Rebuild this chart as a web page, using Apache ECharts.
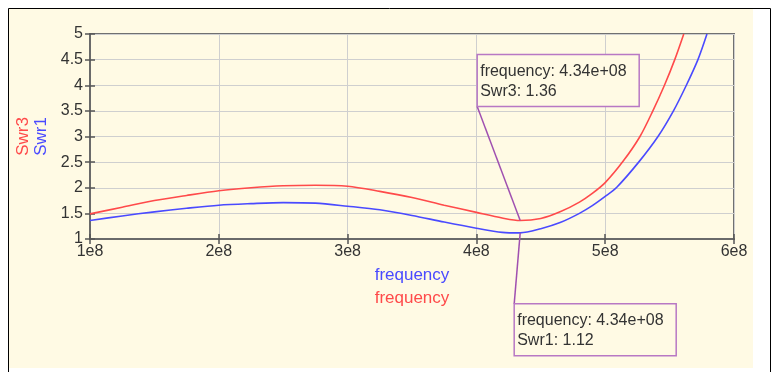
<!DOCTYPE html>
<html>
<head>
<meta charset="utf-8">
<script src="https://cdn.jsdelivr.net/npm/echarts@6/dist/echarts.min.js"></script>
<style>
  html, body { margin: 0; padding: 0; background: #fff; }
  #chart { width: 776px; height: 372px; }
</style>
</head>
<body>
<div id="chart"></div>
<script>
// Frequency sweep of two SWR traces (frequency in Hz)
const swr3Freq = [1.00e8, 1.25e8, 1.50e8, 1.75e8, 2.00e8, 2.25e8, 2.50e8, 2.75e8, 3.00e8, 3.25e8, 3.50e8, 3.75e8, 4.00e8, 4.20e8, 4.34e8, 4.50e8, 4.65e8, 4.80e8, 4.90e8, 5.00e8, 5.14e8, 5.27e8, 5.37e8, 5.46e8, 5.54e8, 5.61e8];
const swr3Vals = [1.49, 1.62, 1.75, 1.85, 1.94, 2.00, 2.04, 2.05, 2.03, 1.93, 1.81, 1.66, 1.52, 1.41, 1.36, 1.40, 1.53, 1.72, 1.89, 2.10, 2.52, 3.00, 3.50, 4.00, 4.50, 5.00];

const swr1Freq = [1.00e8, 1.25e8, 1.50e8, 1.75e8, 2.00e8, 2.25e8, 2.50e8, 2.75e8, 3.00e8, 3.25e8, 3.50e8, 3.75e8, 4.00e8, 4.20e8, 4.34e8, 4.50e8, 4.65e8, 4.80e8, 4.90e8, 5.00e8, 5.09e8, 5.26e8, 5.41e8, 5.53e8, 5.63e8, 5.72e8, 5.79e8];
const swr1Vals = [1.36, 1.45, 1.53, 1.60, 1.66, 1.69, 1.71, 1.70, 1.64, 1.57, 1.46, 1.33, 1.21, 1.13, 1.12, 1.20, 1.32, 1.50, 1.65, 1.83, 2.01, 2.50, 3.00, 3.50, 4.00, 4.50, 5.00];

// Axis ranges and ticks
const freqMin = 1e8, freqMax = 6e8, freqStep = 1e8;
const swrMin = 1, swrMax = 5, swrStep = 0.5;

// Marker readouts
const marker3 = { freq: 4.34e8, value: 1.36, name: 'Swr3' };
const marker1 = { freq: 4.34e8, value: 1.12, name: 'Swr1' };

const RED = '#ff4a4a', BLUE = '#4a4aff', TXT = '#333', FONT = 'Liberation Sans, Arial, sans-serif';
const CREAM = '#fffae4';

const zip = (xs, ys) => xs.map((x, i) => [x, ys[i]]);
const fmtFreq = v => (Math.round(v / 1e8)) + 'e8';
const fmtExp = v => {
  const e = Math.floor(Math.log10(v));
  const m = (v / Math.pow(10, e)).toFixed(2);
  return m + 'e+' + String(e).padStart(2, '0');
};

const chart = echarts.init(document.getElementById('chart'), null, { renderer: 'canvas' });

const gridLine = { show: true, lineStyle: { color: '#cfcfcf', width: 1 } };
const tickLabel = { color: TXT, fontSize: 16, fontFamily: FONT };

function frame() {
  return [
    { type: 'rect', z: -20, silent: true, shape: { x: 8.5, y: 8.5, width: 762, height: 400 }, style: { fill: '#fff', stroke: '#000', lineWidth: 1 } },
    { type: 'rect', z: -19, silent: true, shape: { x: 9, y: 9, width: 744, height: 359 }, style: { fill: CREAM } }
  ];
}

chart.setOption({
  backgroundColor: '#ffffff',
  animation: false,
  textStyle: { fontFamily: FONT },
  grid: { left: 90, top: 34, right: 42, bottom: 133, show: true, borderColor: '#707070', borderWidth: 2, backgroundColor: 'transparent' },
  xAxis: [
    {
      type: 'value', min: freqMin, max: freqMax, interval: freqStep,
      axisLine: { show: true, onZero: false, lineStyle: { color: '#6a6a6a', width: 2 } },
      axisTick: { show: true, length: 5, lineStyle: { color: '#555', width: 1.5 } },
      axisLabel: Object.assign({ margin: 5, formatter: fmtFreq }, tickLabel),
      splitLine: gridLine,
      name: 'frequency', nameLocation: 'middle', nameGap: 28,
      nameTextStyle: { color: BLUE, fontSize: 17, verticalAlign: 'top' }
    },
    {
      type: 'value', min: freqMin, max: freqMax, interval: freqStep, position: 'bottom',
      axisLine: { show: false },
      axisTick: { show: true, inside: true, length: 5, lineStyle: { color: '#555', width: 1.5 } },
      axisLabel: { show: false }, splitLine: { show: false },
      name: 'frequency', nameLocation: 'middle', nameGap: 51,
      nameTextStyle: { color: RED, fontSize: 17, verticalAlign: 'top' }
    }
  ],
  yAxis: [
    {
      type: 'value', min: swrMin, max: swrMax, interval: swrStep,
      axisLine: { show: true, onZero: false, lineStyle: { color: '#6a6a6a', width: 2 } },
      axisTick: { show: true, length: 5, lineStyle: { color: '#555', width: 1.5 } },
      axisLabel: Object.assign({ margin: 7 }, tickLabel),
      splitLine: gridLine,
      name: 'Swr1', nameLocation: 'middle', nameGap: 37,
      nameTextStyle: { color: BLUE, fontSize: 17 }
    },
    {
      type: 'value', min: swrMin, max: swrMax, interval: swrStep, position: 'left',
      axisLine: { show: false },
      axisTick: { show: true, inside: true, length: 5, lineStyle: { color: '#555', width: 1.5 } },
      axisLabel: { show: false }, splitLine: { show: false },
      name: 'Swr3', nameLocation: 'middle', nameGap: 58,
      nameTextStyle: { color: RED, fontSize: 17 }
    }
  ],
  graphic: frame(),
  series: [
    {
      name: 'Swr3', type: 'line', xAxisIndex: 0, yAxisIndex: 0,
      data: zip(swr3Freq, swr3Vals), smooth: 0.3, symbol: 'none',
      lineStyle: { color: RED, width: 1.6 }, z: 3
    },
    {
      name: 'Swr1', type: 'line', xAxisIndex: 0, yAxisIndex: 0,
      data: zip(swr1Freq, swr1Vals), smooth: 0.3, symbol: 'none',
      lineStyle: { color: BLUE, width: 1.6 }, z: 3
    }
  ]
});

// Marker readout boxes with leader lines, placed from the data points' pixel positions
function markerBox(m, dx, dy, corner) {
  const p = chart.convertToPixel({ xAxisIndex: 0, yAxisIndex: 0 }, [m.freq, m.value]);
  const w = 162, h = 52;
  const bx = p[0] + dx, by = p[1] + dy;
  const cx = bx, cy = corner === 'bottom' ? by + h : by;
  return [
    { type: 'line', z: 20, silent: true, shape: { x1: cx, y1: cy, x2: p[0], y2: p[1] }, style: { stroke: '#a050b0', lineWidth: 1.5 } },
    { type: 'rect', z: 21, silent: true, shape: { x: bx, y: by, width: w, height: h }, style: { fill: CREAM, stroke: '#b878c4', lineWidth: 1.5 } },
    { type: 'text', z: 22, silent: true, x: bx + 3, y: by + 7,
      style: { text: 'frequency: ' + fmtExp(m.freq) + '\n' + m.name + ': ' + m.value.toFixed(2),
               fill: TXT, font: '16px ' + FONT, lineHeight: 20 } }
  ];
}

chart.setOption({
  graphic: frame().concat(markerBox(marker3, -43, -166, 'bottom'), markerBox(marker1, -6, 71, 'top'))
}, { replaceMerge: ['graphic'] });
</script>
</body>
</html>
